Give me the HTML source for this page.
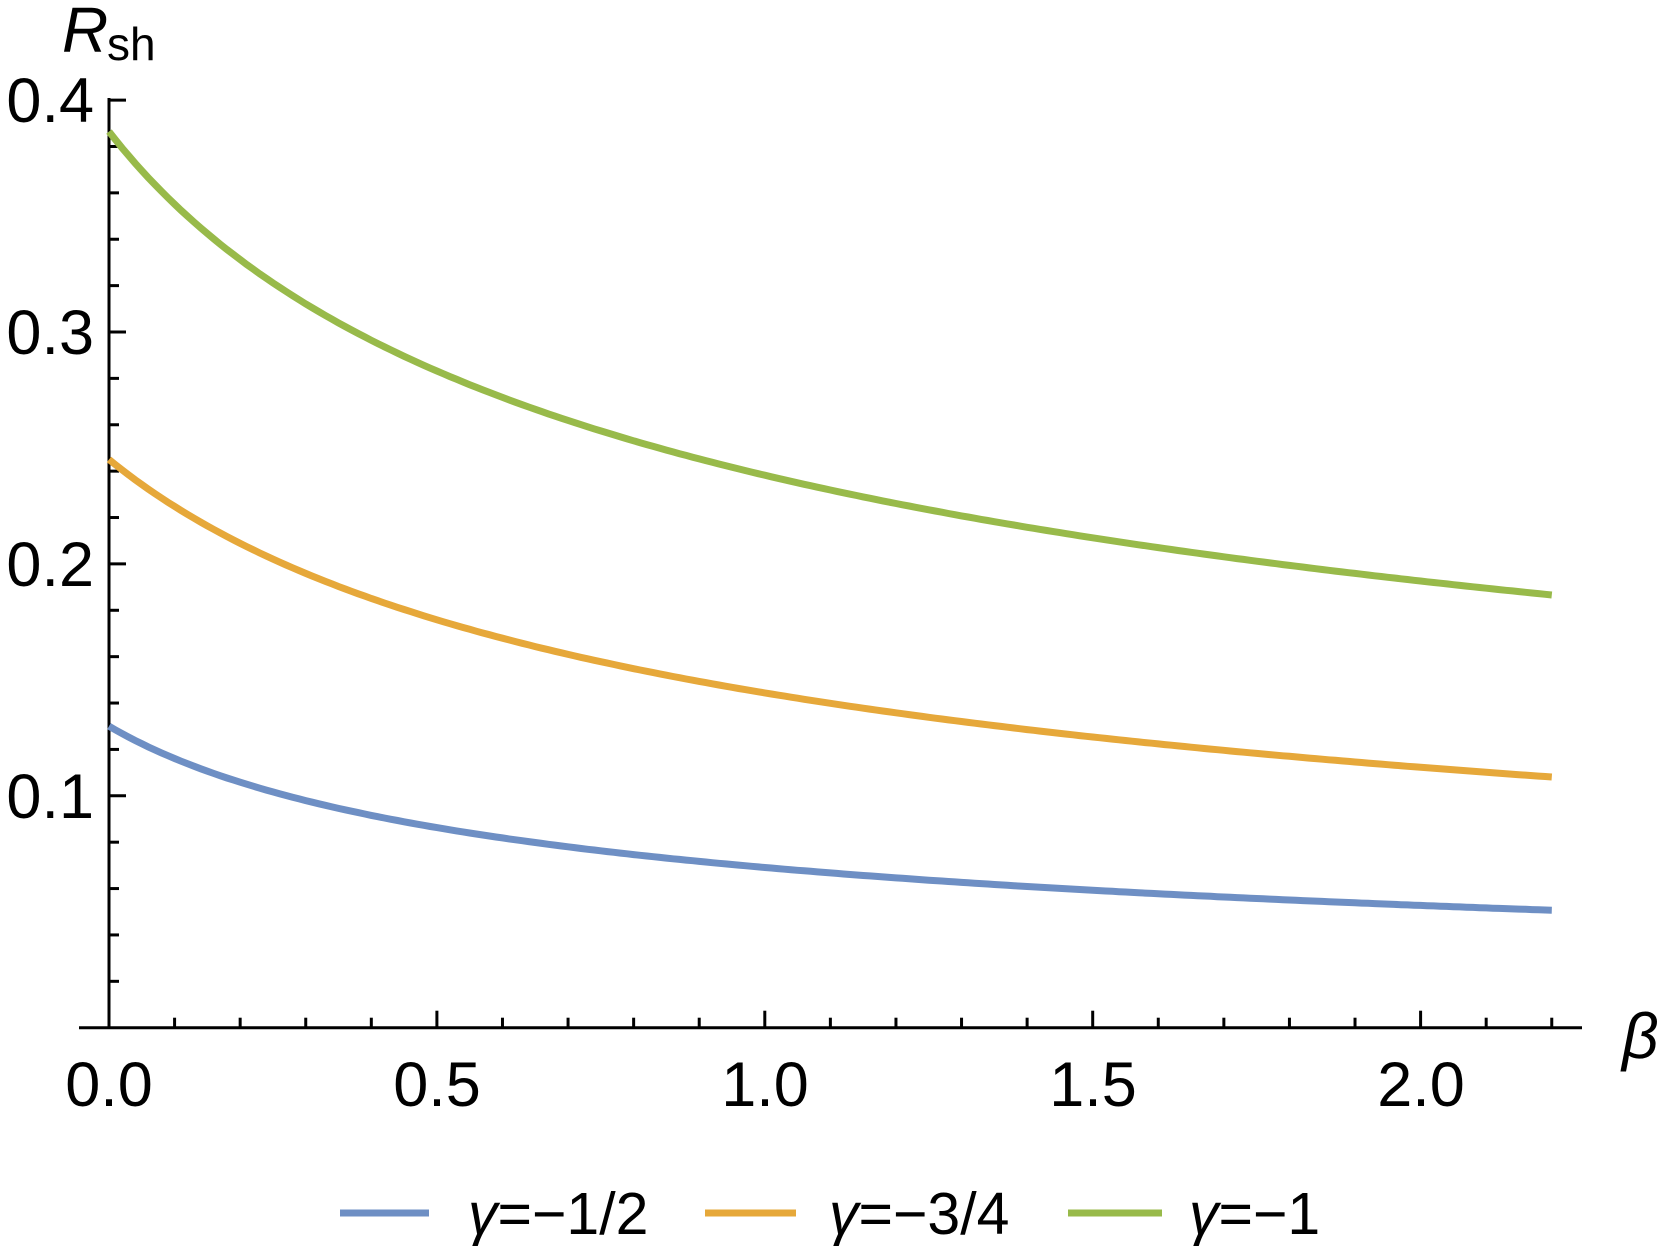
<!DOCTYPE html>
<html><head><meta charset="utf-8"><style>
html,body{margin:0;padding:0;background:#fff;width:1666px;height:1246px;overflow:hidden}
svg{display:block}
text{font-family:"Liberation Sans",sans-serif;fill:#000}
</style></head><body>
<svg id="s" width="1666" height="1246" viewBox="0 0 1666 1246" xmlns="http://www.w3.org/2000/svg">
<g id="ax" stroke="#000" stroke-width="3" fill="none">
<line x1="79" y1="1027.7" x2="1582" y2="1027.7"/>
<line x1="109" y1="1029" x2="109" y2="98"/>
</g>
<g id="curves" fill="none" stroke-width="7" stroke-linecap="butt"></g>
<g font-size="63">
<text x="94" y="122" text-anchor="end">0.4</text>
<text x="94" y="354" text-anchor="end">0.3</text>
<text x="94" y="586" text-anchor="end">0.2</text>
<text x="94" y="818" text-anchor="end">0.1</text>
<text x="109" y="1106" text-anchor="middle">0.0</text>
<text x="437" y="1106" text-anchor="middle">0.5</text>
<text x="765" y="1106" text-anchor="middle">1.0</text>
<text x="1093" y="1106" text-anchor="middle">1.5</text>
<text x="1421" y="1106" text-anchor="middle">2.0</text>
</g>
<text x="1622" y="1058" font-size="64" font-style="italic">β</text>
<text x="62" y="52" font-size="64" font-style="italic">R</text><text x="107" y="60" font-size="46">sh</text>
<g stroke-width="7">
<line x1="340" y1="1213" x2="429" y2="1213" stroke="#6e8fc4"/>
<line x1="705" y1="1213" x2="796" y2="1213" stroke="#e6a83a"/>
<line x1="1068" y1="1213" x2="1162" y2="1213" stroke="#98ba4a"/>
</g>
<g font-size="59">
<text x="468" y="1234"><tspan font-style="italic">γ</tspan>=−1/2</text>
<text x="829" y="1234"><tspan font-style="italic">γ</tspan>=−3/4</text>
<text x="1189" y="1234"><tspan font-style="italic">γ</tspan>=−1</text>
</g>
</svg>
<script>
var NS="http://www.w3.org/2000/svg";
var ax=document.getElementById("ax");
function X(b){return 109+655.8*b}
function Y(v){return 1027.7-2319*v}
for(var i=1;i<=22;i++){var x=X(i/10);var l=document.createElementNS(NS,"line");var len=(i%5==0)?17:10;
l.setAttribute("x1",x);l.setAttribute("x2",x);l.setAttribute("y1",1027.7);l.setAttribute("y2",1027.7-len);ax.appendChild(l);}
for(var j=1;j<=20;j++){var y=Y(j*0.02);var l=document.createElementNS(NS,"line");var len=(j%5==0)?17:10;
l.setAttribute("x1",109);l.setAttribute("x2",109+len);l.setAttribute("y1",y);l.setAttribute("y2",y);ax.appendChild(l);}
var cs=[[0.13,2.54,0.5,"#6e8fc4"],[0.245,1.88,0.5,"#e6a83a"],[0.3864,2.35,0.4,"#98ba4a"]];
var g=document.getElementById("curves");
cs.forEach(function(c){var pts=[];for(var k=0;k<=220;k++){var b=k/100;var v=c[0]*Math.pow(1+c[1]*b,-c[2]);pts.push(X(b).toFixed(1)+","+Y(v).toFixed(1));}
var p=document.createElementNS(NS,"polyline");p.setAttribute("points",pts.join(" "));p.setAttribute("stroke",c[3]);g.appendChild(p);});
</script>
</body></html>
